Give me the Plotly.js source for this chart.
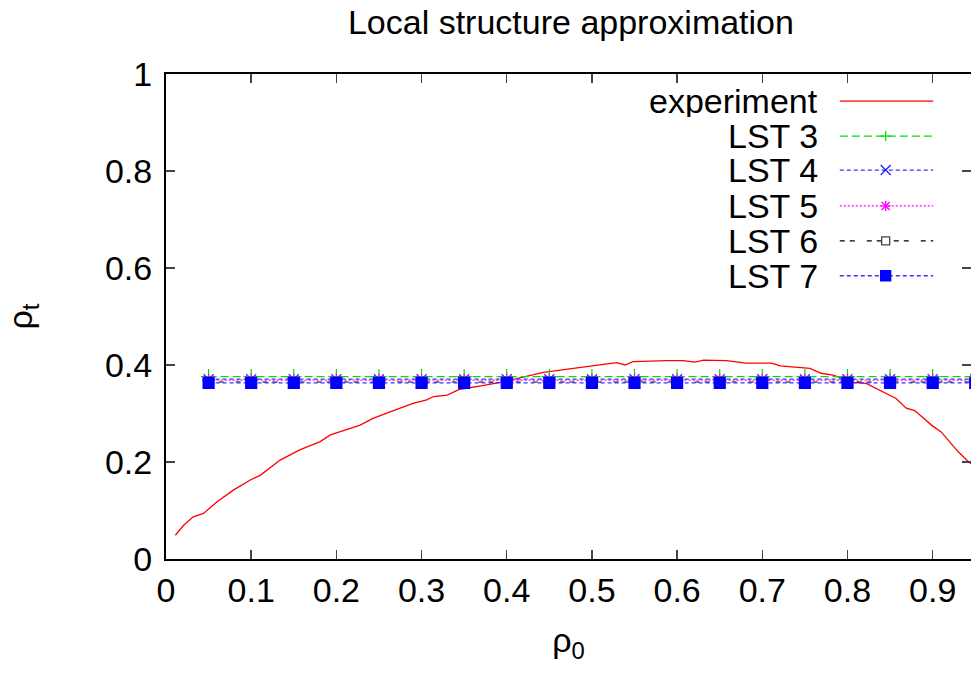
<!DOCTYPE html>
<html>
<head>
<meta charset="utf-8">
<script src="https://cdn.plot.ly/plotly-3.0.1.min.js"></script>
<style>html,body{margin:0;padding:0;background:#fff}#chart{width:971px;height:673px}</style>
</head>
<body>
<div id="chart"></div>
<script>
// ---- data ----
const expX = [0.011,0.021,0.032,0.044,0.060,0.079,0.099,0.111,0.134,0.157,0.181,0.193,0.228,0.243,0.267,0.290,0.306,0.314,0.330,0.345,0.370,0.392,0.443,0.470,0.510,0.529,0.539,0.548,0.588,0.607,0.621,0.631,0.658,0.681,0.711,0.721,0.756,0.769,0.783,0.807,0.822,0.838,0.857,0.869,0.879,0.900,0.910,0.930,0.943,0.950];
const expY = [0.049,0.070,0.087,0.094,0.118,0.142,0.163,0.173,0.204,0.225,0.242,0.256,0.276,0.290,0.306,0.321,0.328,0.335,0.338,0.350,0.357,0.364,0.385,0.391,0.401,0.405,0.400,0.407,0.409,0.409,0.406,0.410,0.409,0.404,0.404,0.398,0.393,0.383,0.379,0.364,0.362,0.348,0.331,0.311,0.306,0.274,0.262,0.221,0.199,0.190];
const lstX = [0.05,0.10,0.15,0.20,0.25,0.30,0.35,0.40,0.45,0.50,0.55,0.60,0.65,0.70,0.75,0.80,0.85,0.90,0.95];
const lst3 = [0.376,0.376,0.376,0.376,0.376,0.376,0.376,0.376,0.376,0.376,0.376,0.376,0.376,0.376,0.376,0.376,0.376,0.376,0.376];
const lst4 = [0.371,0.371,0.371,0.371,0.371,0.371,0.371,0.371,0.371,0.371,0.371,0.371,0.371,0.371,0.371,0.371,0.371,0.371,0.371];
const lst5 = [0.369,0.369,0.369,0.369,0.369,0.369,0.369,0.369,0.369,0.369,0.369,0.369,0.369,0.369,0.369,0.369,0.369,0.369,0.369];
const lst6 = [0.365,0.365,0.365,0.365,0.365,0.365,0.365,0.365,0.365,0.365,0.365,0.365,0.365,0.365,0.365,0.365,0.365,0.365,0.365];
const lst7 = [0.363,0.363,0.363,0.363,0.363,0.363,0.363,0.363,0.363,0.363,0.363,0.363,0.363,0.363,0.363,0.363,0.363,0.363,0.363];
const seriesNames = ["experiment","LST 3","LST 4","LST 5","LST 6","LST 7"];
const xTicks = [0,0.1,0.2,0.3,0.4,0.5,0.6,0.7,0.8,0.9];
const xTickText = ["0","0.1","0.2","0.3","0.4","0.5","0.6","0.7","0.8","0.9"];
const yTicks = [0,0.2,0.4,0.6,0.8,1];
const yTickText = ["0","0.2","0.4","0.6","0.8","1"];

// ---- styles ----
const FONT = "Liberation Sans, Arial, Helvetica, sans-serif";
const FS = 34;
const styles = [
  {color:"#ff0000", dash:"solid", symbol:null},
  {color:"#00e000", dash:"8px,4px", symbol:"cross-thin-open", msize:11, mcolor:"#00e000"},
  {color:"#3333ff", dash:"4px,3px", symbol:"x-thin-open", msize:10, mcolor:"#2222ff"},
  {color:"#ff00ff", dash:"2px,2px", symbol:"asterisk-open", msize:11, mcolor:"#ff00ff"},
  {color:"#000000", dash:"5px,5px,5px,12px", symbol:"square-open", msize:9, mcolor:"#444444"},
  {color:"#3333ff", dash:"4px,3px", symbol:"square", msize:11, mcolor:"#0000ff"}
];
const lstData = [lst3,lst4,lst5,lst6,lst7];

const traces = [{
  x: expX, y: expY, mode:"lines", type:"scatter", name: seriesNames[0],
  line:{color:styles[0].color, width:1.3}, showlegend:false, hoverinfo:"skip"
}];
lstData.forEach((ys,i)=>{
  const s = styles[i+1];
  traces.push({
    x: lstX, y: ys, mode:"lines+markers", type:"scatter", name: seriesNames[i+1],
    line:{color:s.color, width:1.2, dash:s.dash},
    marker:{symbol:s.symbol, size:s.msize, color:s.mcolor, line:{color:s.mcolor, width:1.2}},
    showlegend:false, hoverinfo:"skip", cliponaxis:true
  });
});

// ---- custom legend (text right, sample on right) ----
const legRowsY = [0.944,0.872,0.802,0.728,0.656,0.584];
const annotations = [];
const shapes = [];
seriesNames.forEach((n,i)=>{
  annotations.push({xref:"paper", yref:"paper", x:0.812, y:legRowsY[i], text:n, showarrow:false,
    xanchor:"right", yanchor:"middle", height:32, valign:"middle",
    font:{family:FONT, size:FS, color:"#000"}});
  const s = styles[i];
  shapes.push({type:"line", xref:"paper", yref:"paper", x0:0.837, x1:0.953, y0:legRowsY[i], y1:legRowsY[i],
    line:{color:s.color, width:1.3, dash:s.dash==="solid"?"solid":s.dash}});
});
function pxShape(type, i, x0,y0,x1,y1, color, fill){
  const o = {type:type, xref:"paper", yref:"paper", xsizemode:"pixel", ysizemode:"pixel",
    xanchor:0.894, yanchor:legRowsY[i], x0:x0, x1:x1, y0:y0, y1:y1,
    line:{color:color, width:1.3}};
  if(fill) o.fillcolor = fill;
  return o;
}
// plus
shapes.push(pxShape("line",1,-5,0,5,0,styles[1].mcolor));
shapes.push(pxShape("line",1,0,-5,0,5,styles[1].mcolor));
// x
shapes.push(pxShape("line",2,-5,-5,5,5,styles[2].mcolor));
shapes.push(pxShape("line",2,-5,5,5,-5,styles[2].mcolor));
// star
shapes.push(pxShape("line",3,-5,0,5,0,styles[3].mcolor));
shapes.push(pxShape("line",3,0,-5,0,5,styles[3].mcolor));
shapes.push(pxShape("line",3,-4,-4,4,4,styles[3].mcolor));
shapes.push(pxShape("line",3,-4,4,4,-4,styles[3].mcolor));
// open square
shapes.push(pxShape("rect",4,-4,-4,4,4,styles[4].mcolor,"#ffffff"));
// filled square
shapes.push(pxShape("rect",5,-5,-5,5,5,styles[5].mcolor,styles[5].mcolor));

const layout = {
  width:971, height:673,
  margin:{l:166, r:0, t:74, b:114},
  paper_bgcolor:"#fff", plot_bgcolor:"#fff",
  font:{family:FONT, size:FS, color:"#000"},
  title:{text:"Local structure approximation", font:{family:FONT, size:FS, color:"#000"},
    x:0.588, xanchor:"center", y:0.967, yanchor:"middle"},
  showlegend:false,
  xaxis:{range:[0,0.945], tickvals:xTicks, ticktext:xTickText, ticks:"inside", ticklen:9, tickwidth:1.5,
    showline:true, linewidth:2, linecolor:"#000", mirror:"ticks", showgrid:false, zeroline:false,
    tickfont:{family:FONT, size:FS}, title:{text:"ρ<sub>0</sub>", font:{family:FONT, size:FS}, standoff:20}},
  yaxis:{range:[0,1], tickvals:yTicks, ticktext:yTickText, ticks:"inside", ticklen:9, tickwidth:1.5,
    ticklabelstandoff:5,
    showline:true, linewidth:2, linecolor:"#000", mirror:"ticks", showgrid:false, zeroline:false,
    tickfont:{family:FONT, size:FS}, title:{text:"ρ<sub>t</sub>", font:{family:FONT, size:FS}, standoff:62}},
  annotations: annotations,
  shapes: shapes
};
Plotly.newPlot("chart", traces, layout, {staticPlot:true, displayModeBar:false});
</script>
</body>
</html>
